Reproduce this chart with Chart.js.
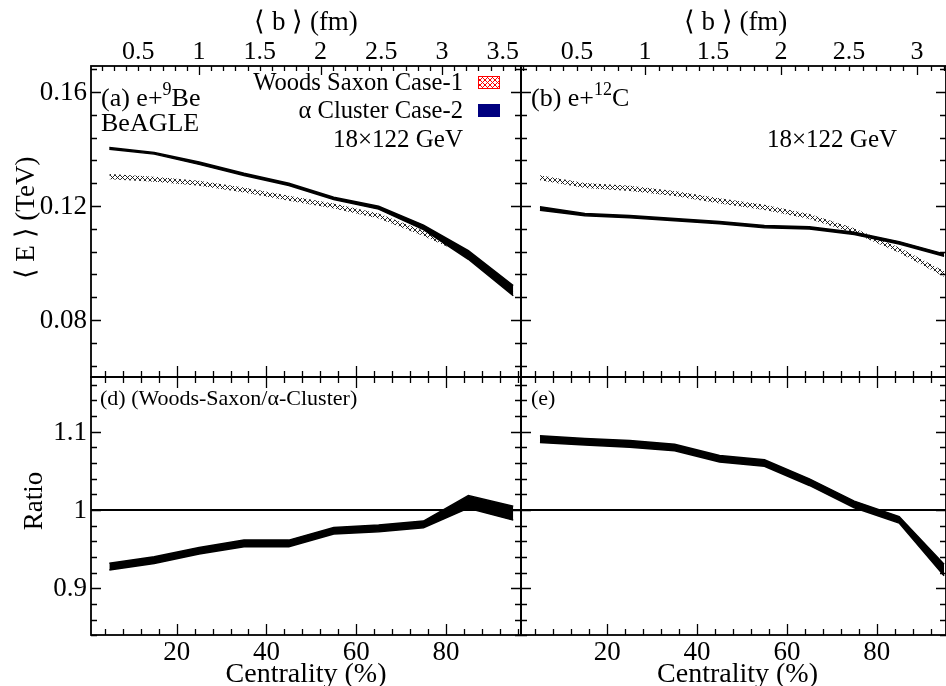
<!DOCTYPE html>
<html>
<head>
<meta charset="utf-8">
<script src="https://cdn.jsdelivr.net/npm/chart.js@4.4.0/dist/chart.umd.min.js"></script>
<style>
  html, body { margin: 0; padding: 0; background: #fff; }
  #lienzo { position: relative; width: 946px; height: 686px; overflow: hidden; }
  #lienzo canvas { position: absolute; left: 0; top: 0; }
</style>
</head>
<body>
<div id="lienzo">
  <canvas id="panelA" width="946" height="686"></canvas>
  <canvas id="panelB" width="946" height="686"></canvas>
  <canvas id="panelD" width="946" height="686"></canvas>
  <canvas id="panelE" width="946" height="686"></canvas>
</div>
<script>
// centralidad (%) de cada punto
const centralidad = [5, 15, 25, 35, 45, 55, 65, 75, 85, 95];

// (a) e+9Be, <E> en TeV
const beAlfaAlto = [0.1405, 0.1388, 0.1354, 0.1315, 0.1280, 0.1231, 0.1199, 0.1133, 0.1043, 0.0921];
const beAlfaBajo = [0.1399, 0.1382, 0.1346, 0.1307, 0.1272, 0.1223, 0.1189, 0.1117, 0.1013, 0.0885];
const beWsAlto = [0.1312, 0.1303, 0.1289, 0.1265, 0.1236, 0.1209, 0.1174, 0.1113, 0.1042, 0.0909];
const beWsBajo = [0.1294, 0.1285, 0.1271, 0.1247, 0.1218, 0.1191, 0.1156, 0.1095, 0.1024, 0.0891];

// (b) e+12C
const cAlfaAlto = [0.1197, 0.1174, 0.1167, 0.1156, 0.1146, 0.1132, 0.1127, 0.1108, 0.1075, 0.1032];
const cAlfaBajo = [0.1185, 0.1166, 0.1159, 0.1148, 0.1138, 0.1124, 0.1119, 0.1100, 0.1067, 0.1024];
const cWsAlto = [0.1308, 0.1281, 0.1271, 0.1253, 0.1227, 0.1204, 0.1172, 0.1122, 0.1054, 0.0972];
const cWsBajo = [0.1290, 0.1263, 0.1253, 0.1235, 0.1209, 0.1186, 0.1154, 0.1104, 0.1036, 0.0952];

// (d) y (e) cociente Woods-Saxon / alfa-cluster
const razonBeAlto = [0.9319, 0.9402, 0.9522, 0.9616, 0.9616, 0.9778, 0.9808, 0.9859, 1.0184, 1.0049];
const razonBeBajo = [0.9235, 0.9318, 0.9438, 0.9532, 0.9532, 0.9694, 0.9724, 0.9775, 1.0024, 0.9871];
const razonCAlto = [1.0948, 1.0914, 1.0887, 1.0840, 1.0697, 1.0642, 1.0398, 1.0114, 0.9917, 0.9307];
const razonCBajo = [1.0864, 1.0830, 1.0803, 1.0756, 1.0613, 1.0558, 1.0314, 1.0030, 0.9833, 0.9161];
const razonUno = [1, 1];

// etiquetas de ejes
const etiquetasCentralidad = [20, 40, 60, 80];
const etiquetasEnergia = [0.08, 0.12, 0.16];
const etiquetasRazon = [0.9, 1, 1.1];
const etiquetasBIzq = [0.5, 1, 1.5, 2, 2.5, 3, 3.5];
const etiquetasBDer = [0.5, 1, 1.5, 2, 2.5, 3];

const FUENTE = '"Liberation Serif", "Times New Roman", serif';

function fuente(tam) {
    return tam + 'px ' + FUENTE;
}

function puntos(valores) {
    return centralidad.map((c, i) => ({ x: c, y: valores[i] }));
}

function patronCruzado(color, paso, grosor, fondo) {
    const c = document.createElement('canvas');
    c.width = paso;
    c.height = paso;
    const g = c.getContext('2d');
    if (fondo) {
        g.fillStyle = fondo;
        g.fillRect(0, 0, paso, paso);
    }
    g.strokeStyle = color;
    g.lineWidth = grosor;
    g.beginPath();
    g.moveTo(0, 0); g.lineTo(paso, paso);
    g.moveTo(paso, 0); g.lineTo(0, paso);
    g.stroke();
    return g.createPattern(c, 'repeat');
}

const rayado = patronCruzado('#111', 5, 0.9);
const rayadoRojo = patronCruzado('#f00', 5, 1, '#fff');

function banda(alto, bajo, relleno, borde, grosor) {
    return [
        { data: puntos(alto), fill: '+1', backgroundColor: relleno, borderColor: borde, borderWidth: grosor, pointRadius: 0, tension: 0 },
        { data: puntos(bajo), fill: false, borderColor: borde, borderWidth: grosor, pointRadius: 0, tension: 0 }
    ];
}

function lineaUno(xmin, xmax) {
    return { data: [{ x: xmin, y: razonUno[0] }, { x: xmax, y: razonUno[1] }], borderColor: '#000', borderWidth: 2, pointRadius: 0, fill: false };
}

// texto con partes (superindices)
function texto(ctx, partes, x, y, alinear) {
    let ancho = 0;
    partes.forEach(p => {
        ctx.font = fuente(p.tam);
        p.ancho = ctx.measureText(p.t).width;
        ancho += p.ancho;
    });
    let cx = alinear === 'right' ? x - ancho : (alinear === 'center' ? x - ancho / 2 : x);
    ctx.textAlign = 'left';
    ctx.textBaseline = 'alphabetic';
    partes.forEach(p => {
        ctx.font = fuente(p.tam);
        ctx.fillText(p.t, cx, y + (p.dy || 0));
        cx += p.ancho;
    });
}

function crearMarco(cfg) {
    return {
        id: 'marco',
        afterDraw(chart) {
            const ctx = chart.ctx;
            const a = chart.chartArea;
            const sx = chart.scales.x;
            const sy = chart.scales.y;
            ctx.save();
            ctx.fillStyle = '#000';
            ctx.strokeStyle = '#000';

            // marcas de x (centralidad)
            ctx.lineWidth = 1.3;
            ctx.beginPath();
            for (let v = 4; v <= 96; v += 4) {
                if (v < sx.min || v > sx.max) continue;
                const px = Math.round(sx.getPixelForValue(v)) + 0.5;
                const largo = v % 20 === 0 ? 11 : 6;
                ctx.moveTo(px, a.bottom); ctx.lineTo(px, a.bottom - largo);
                if (!cfg.ejeB) {
                    ctx.moveTo(px, a.top); ctx.lineTo(px, a.top + largo);
                }
            }
            // marcas de <b>
            if (cfg.ejeB) {
                const sb = chart.scales.xb;
                for (let k = 1; k <= 40; k++) {
                    const v = k / 10;
                    if (v < sb.min || v > sb.max) continue;
                    const px = Math.round(sb.getPixelForValue(v)) + 0.5;
                    const largo = k % 10 === 0 ? 9 : 5;
                    ctx.moveTo(px, a.top); ctx.lineTo(px, a.top + largo);
                }
            }
            // marcas de y
            cfg.marcasY.forEach(m => {
                const py = Math.round(sy.getPixelForValue(m.v)) + 0.5;
                const largo = m.mayor ? 10 : 6;
                ctx.moveTo(a.left, py); ctx.lineTo(a.left + largo, py);
                ctx.moveTo(a.right, py); ctx.lineTo(a.right - largo, py);
            });
            ctx.stroke();

            // marco
            ctx.lineWidth = 1.8;
            ctx.strokeRect(a.left, a.top, a.right - a.left, a.bottom - a.top);

            // etiquetas de ejes
            if (cfg.etiquetasY) {
                ctx.font = fuente(27);
                ctx.textAlign = 'right';
                ctx.textBaseline = 'middle';
                cfg.etiquetasY.forEach(v => {
                    ctx.fillText(String(v), a.left - 4, sy.getPixelForValue(v) + 1);
                });
            }
            if (cfg.etiquetasX) {
                ctx.font = fuente(27);
                ctx.textAlign = 'center';
                ctx.textBaseline = 'alphabetic';
                cfg.etiquetasX.forEach(v => {
                    ctx.fillText(String(v), sx.getPixelForValue(v), 660);
                });
                ctx.font = fuente(28);
                ctx.fillText('Centrality (%)', (a.left + a.right) / 2 + cfg.dxTitulo, 682);
            }
            if (cfg.ejeB) {
                const sb = chart.scales.xb;
                ctx.font = fuente(26);
                ctx.textAlign = 'center';
                ctx.textBaseline = 'alphabetic';
                cfg.etiquetasB.forEach(v => {
                    ctx.fillText(String(v), sb.getPixelForValue(v), 59);
                });
                ctx.font = fuente(27);
                ctx.fillText('\u27E8 b \u27E9 (fm)', (a.left + a.right) / 2 + cfg.dxTitulo, 30);
            }
            if (cfg.dibujarExtra) cfg.dibujarExtra(ctx, a);
            ctx.restore();
        }
    };
}

function marcas(desde, hasta, paso, mayores) {
    const lista = [];
    for (let v = desde; v <= hasta + 1e-9; v += paso) {
        const r = Math.round(v * 1000) / 1000;
        lista.push({ v: r, mayor: mayores.some(m => Math.abs(m - r) < 1e-6) });
    }
    return lista;
}

const marcasEnergia = marcas(0.064, 0.168, 0.008, etiquetasEnergia);
const marcasRazon = marcas(0.84, 1.16, 0.02, etiquetasRazon);

function crearPanel(id, datasets, relleno, rangoX, rangoY, rangoB, cfg) {
    const escalas = {
        x: { type: 'linear', min: rangoX[0], max: rangoX[1], display: false },
        y: { type: 'linear', min: rangoY[0], max: rangoY[1], display: false }
    };
    if (rangoB) {
        escalas.xb = { type: 'linear', position: 'top', min: rangoB[0], max: rangoB[1], display: false };
    }
    return new Chart(document.getElementById(id), {
        type: 'line',
        data: { datasets: datasets },
        options: {
            responsive: false,
            animation: false,
            devicePixelRatio: 1,
            layout: { padding: relleno },
            plugins: { legend: { display: false }, tooltip: { enabled: false } },
            scales: escalas
        },
        plugins: [crearMarco(cfg)]
    });
}

// límites de ejes
const xIzq = [0.91, 96.73];
const xDer = [0.78, 95.43];
const yEnergia = [0.0600, 0.16912];
const yRazon = [0.8404, 1.1699];
const bIzq = [0.111, 3.650];
const bDer = [0.088, 3.213];

crearPanel('panelA',
    [...banda(beAlfaAlto, beAlfaBajo, '#000', '#000', 1.5), ...banda(beWsAlto, beWsBajo, rayado, 'rgba(0,0,0,0)', 1)],
    { left: 91, top: 66, right: 425, bottom: 309 }, xIzq, yEnergia, bIzq,
    {
        ejeB: true, etiquetasB: etiquetasBIzq, marcasY: marcasEnergia, etiquetasY: etiquetasEnergia, dxTitulo: 0,
        dibujarExtra(ctx) {
            texto(ctx, [{ t: '(a) e+', tam: 26 }, { t: '9', tam: 18, dy: -11 }, { t: 'Be', tam: 26 }], 101, 106, 'left');
            texto(ctx, [{ t: 'BeAGLE', tam: 26 }], 101, 131, 'left');
            texto(ctx, [{ t: 'Woods Saxon Case-1', tam: 24.6 }], 463, 90, 'right');
            texto(ctx, [{ t: '\u03B1 Cluster Case-2', tam: 24.6 }], 463, 118, 'right');
            texto(ctx, [{ t: '18\u00D7122 GeV', tam: 25 }], 463, 147, 'right');
            ctx.fillStyle = rayadoRojo;
            ctx.fillRect(478, 76, 22, 13);
            ctx.strokeStyle = '#f00';
            ctx.lineWidth = 1;
            ctx.strokeRect(478.5, 76.5, 21, 12);
            ctx.fillStyle = '#00007f';
            ctx.fillRect(478, 104, 22, 13);
            // titulo eje y
            ctx.fillStyle = '#000';
            ctx.save();
            ctx.translate(27, 218);
            ctx.rotate(-Math.PI / 2);
            ctx.font = fuente(27);
            ctx.textAlign = 'center';
            ctx.textBaseline = 'middle';
            ctx.fillText('\u27E8 E \u27E9 (TeV)', 0, 0);
            ctx.restore();
        }
    });

crearPanel('panelB',
    [...banda(cAlfaAlto, cAlfaBajo, '#000', '#000', 1.5), ...banda(cWsAlto, cWsBajo, rayado, 'rgba(0,0,0,0)', 1)],
    { left: 521, top: 66, right: 0, bottom: 309 }, xDer, yEnergia, bDer,
    {
        ejeB: true, etiquetasB: etiquetasBDer, marcasY: marcasEnergia, dxTitulo: 2,
        dibujarExtra(ctx) {
            texto(ctx, [{ t: '(b) e+', tam: 26 }, { t: '12', tam: 18, dy: -11 }, { t: 'C', tam: 26 }], 531, 106, 'left');
            texto(ctx, [{ t: '18\u00D7122 GeV', tam: 25 }], 767, 147, 'left');
        }
    });

crearPanel('panelD',
    [lineaUno(xIzq[0], xIzq[1]), ...banda(razonBeAlto, razonBeBajo, '#000', '#000', 1.5)],
    { left: 91, top: 377, right: 425, bottom: 51 }, xIzq, yRazon, null,
    {
        marcasY: marcasRazon, etiquetasY: etiquetasRazon, etiquetasX: etiquetasCentralidad, dxTitulo: 0,
        dibujarExtra(ctx) {
            texto(ctx, [{ t: '(d) (Woods-Saxon/\u03B1-Cluster)', tam: 22 }], 100, 405, 'left');
            ctx.save();
            ctx.translate(35, 501);
            ctx.rotate(-Math.PI / 2);
            ctx.font = fuente(27);
            ctx.textAlign = 'center';
            ctx.textBaseline = 'middle';
            ctx.fillText('Ratio', 0, 0);
            ctx.restore();
        }
    });

crearPanel('panelE',
    [lineaUno(xDer[0], xDer[1]), ...banda(razonCAlto, razonCBajo, '#000', '#000', 1.5)],
    { left: 521, top: 377, right: 0, bottom: 51 }, xDer, yRazon, null,
    {
        marcasY: marcasRazon, etiquetasX: etiquetasCentralidad, dxTitulo: 4,
        dibujarExtra(ctx) {
            texto(ctx, [{ t: '(e)', tam: 22 }], 531, 405, 'left');
        }
    });
</script>
</body>
</html>
